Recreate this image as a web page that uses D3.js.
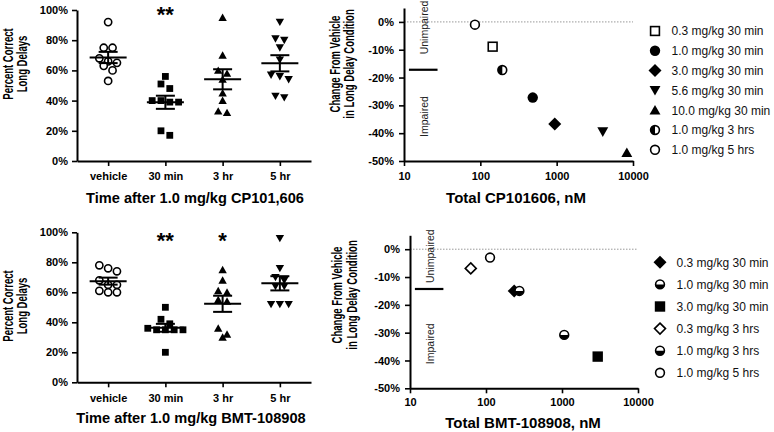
<!DOCTYPE html>
<html><head><meta charset="utf-8">
<script src="https://cdn.jsdelivr.net/npm/d3@7"></script>
<style>
body{margin:0;background:#fff}
svg{display:block}
text{font-family:"Liberation Sans",Arial,Helvetica,sans-serif}
</style>
</head><body>
<svg id="chart" width="774" height="432"></svg>
<script>
// ---------------- DATA ----------------
const timeCategories = ["vehicle", "30 min", "3 hr", "5 hr"];
const percentTicks = [0, 20, 40, 60, 80, 100];

// CP101,606 — percent correct, long delays
const cpVehicle = [92, 75, 75, 68, 66, 65, 63, 60, 53];
const cp30min   = [56, 51, 48, 40, 40, 39, 39, 20, 17];
const cp3hr     = [95, 70, 60, 58, 54, 45, 40, 33, 32];
const cp5hr     = [92, 81, 80, 75, 67, 57, 56, 54, 43, 42];
const cpSignificance = ["", "**", "", ""];

// BMT-108908 — percent correct, long delays
const bmtVehicle = [78, 76, 74, 68, 65, 65, 61, 60, 60];
const bmt30min   = [50, 42, 39, 36, 35, 35, 35, 35, 20];
const bmt3hr     = [75, 68, 61, 60, 55, 54, 36, 32, 30];
const bmt5hr     = [96, 76, 70, 68, 64, 64, 52, 52, 52];
const bmtSignificance = ["", "**", "*", ""];

// Concentration vs change panels
const concTicks = [10, 100, 1000, 10000];
const changeTicks = [0, -10, -20, -30, -40, -50];
const thresholdConc = [11.6, 27.5];

const cpLegend = ["0.3 mg/kg 30 min", "1.0 mg/kg 30 min", "3.0 mg/kg 30 min", "5.6 mg/kg 30 min",
                  "10.0 mg/kg 30 min", "1.0 mg/kg 3 hrs", "1.0 mg/kg 5 hrs"];
const cpConcentration = [145, 486, 944, 4020, 8300, 194, 85];
const cpChange        = [-8.9, -27.2, -36.7, -39.5, -47.0, -17.3, -1.0];
const cpThreshold = -17.2;

const bmtLegend = ["0.3 mg/kg 30 min", "1.0 mg/kg 30 min", "3.0 mg/kg 30 min",
                   "0.3 mg/kg 3 hrs", "1.0 mg/kg 3 hrs", "1.0 mg/kg 5 hrs"];
const bmtConcentration = [235, 275, 2950, 63, 1070, 113];
const bmtChange        = [-15.0, -15.0, -38.6, -6.9, -30.8, -3.0];
const bmtThreshold = -14.3;

// ---------------- STYLE ----------------
const cpMarkers  = ["squareOpen", "circleFilled", "diamondFilled", "triDown", "triUp", "halfLeft", "circleOpen"];
const bmtMarkers = ["diamondFilled", "halfBottom", "squareFilled", "diamondOpen", "halfBottom", "circleOpen"];
const dotMarkers = ["circleOpen", "squareFilled", "triUp", "triDown"];

const svg = d3.select("#chart");

function marker(sel, type, x, y, s) {
  const g = sel.append("g").attr("transform", `translate(${x},${y})`);
  const sw = 1.6;
  const r = s;
  switch (type) {
    case "circleOpen":
      g.append("circle").attr("r", r - sw / 2).attr("fill", "#fff").attr("stroke", "#000").attr("stroke-width", sw); break;
    case "circleFilled":
      g.append("circle").attr("r", r).attr("fill", "#000"); break;
    case "squareOpen":
      g.append("rect").attr("x", -r + sw / 2).attr("y", -r + sw / 2).attr("width", 2 * r - sw).attr("height", 2 * r - sw)
        .attr("fill", "#fff").attr("stroke", "#000").attr("stroke-width", sw); break;
    case "squareFilled":
      g.append("rect").attr("x", -r).attr("y", -r).attr("width", 2 * r).attr("height", 2 * r).attr("fill", "#000"); break;
    case "diamondFilled": {
      const d = r * 1.25;
      g.append("path").attr("d", `M0,${-d}L${d},0L0,${d}L${-d},0Z`).attr("fill", "#000"); break;
    }
    case "diamondOpen": {
      const d = r * 1.25 - 1;
      g.append("path").attr("d", `M0,${-d}L${d},0L0,${d}L${-d},0Z`).attr("fill", "#fff")
        .attr("stroke", "#000").attr("stroke-width", sw); break;
    }
    case "triUp":
      g.append("path").attr("d", `M0,${-r}L${r * 1.05},${r * 0.85}L${-r * 1.05},${r * 0.85}Z`).attr("fill", "#000"); break;
    case "triDown":
      g.append("path").attr("d", `M0,${r}L${r * 1.05},${-r * 0.85}L${-r * 1.05},${-r * 0.85}Z`).attr("fill", "#000"); break;
    default: {
      const rr = r - sw / 2;
      g.append("circle").attr("r", rr).attr("fill", "#fff");
      let d;
      if (type === "halfLeft") d = `M0,${-rr}A${rr},${rr} 0 0 0 0,${rr}Z`;
      if (type === "halfRight") d = `M0,${-rr}A${rr},${rr} 0 0 1 0,${rr}Z`;
      if (type === "halfTop") d = `M${-rr},0A${rr},${rr} 0 0 1 ${rr},0Z`;
      if (type === "halfBottom") d = `M${-rr},0A${rr},${rr} 0 0 0 ${rr},0Z`;
      g.append("path").attr("d", d).attr("fill", "#000");
      g.append("circle").attr("r", rr).attr("fill", "none").attr("stroke", "#000").attr("stroke-width", sw);
    }
  }
}

function styleAxis(g, fontSize) {
  g.select(".domain").attr("stroke", "#000").attr("stroke-width", 2);
  g.selectAll(".tick line").attr("stroke", "#000").attr("stroke-width", 1.6);
  g.selectAll(".tick text").attr("fill", "#000").attr("font-size", fontSize).attr("font-weight", "bold");
  g.attr("font-family", null);
}

function yTitle(lines, xs, cy) {
  lines.forEach((t, i) => {
    svg.append("text").attr("transform", `translate(${xs[i]},${cy}) rotate(-90) scale(0.68,1)`)
      .attr("text-anchor", "middle").attr("font-size", 14).attr("font-weight", "bold").text(t);
  });
}

// ---------------- DOT PLOTS ----------------
function dotPlot(groups, sig, top, bottom, tickPad, xTitleText, xTitleX, xTitleY, starY) {
  const x = d3.scalePoint().domain(timeCategories).range([77, 311]).padding(0.544);
  const y = d3.scaleLinear().domain([0, 100]).range([bottom, top]);

  groups.forEach((vals, gi) => {
    const cx = x(timeCategories[gi]);
    const sorted = vals.slice().sort((a, b) => b - a);
    const rows = [];
    sorted.forEach(v => {
      const last = rows[rows.length - 1];
      if (last && Math.abs(y(v) - y(last[0])) < 6.5) last.push(v); else rows.push([v]);
    });
    const g = svg.append("g");
    rows.forEach(row => {
      row.forEach((v, i) => {
        const off = (i - (row.length - 1) / 2) * 8.8;
        const mt = dotMarkers[gi];
        const size = mt === "circleOpen" ? 4.4 : (mt === "squareFilled" ? 3.4 : 4.0);
        marker(g, mt, cx + off, y(v), size);
      });
    });
    const m = d3.mean(vals);
    const sem = d3.deviation(vals) / Math.sqrt(vals.length);
    const lg = svg.append("g").attr("stroke", "#000").attr("stroke-width", 2);
    lg.append("line").attr("x1", cx - 18.5).attr("x2", cx + 18.5).attr("y1", y(m)).attr("y2", y(m));
    lg.append("line").attr("x1", cx).attr("x2", cx).attr("y1", y(m + sem)).attr("y2", y(m - sem));
    lg.append("line").attr("x1", cx - 9.5).attr("x2", cx + 9.5).attr("y1", y(m + sem)).attr("y2", y(m + sem));
    lg.append("line").attr("x1", cx - 9.5).attr("x2", cx + 9.5).attr("y1", y(m - sem)).attr("y2", y(m - sem));
    if (sig[gi]) {
      svg.append("text").attr("x", cx).attr("y", starY).attr("text-anchor", "middle")
        .attr("font-size", 22).attr("font-weight", "bold").text(sig[gi]);
    }
  });

  const xa = svg.append("g").attr("transform", `translate(0,${bottom})`)
    .call(d3.axisBottom(x).tickSize(5).tickSizeOuter(0).tickPadding(tickPad));
  styleAxis(xa, 11);
  const ya = svg.append("g").attr("transform", `translate(77,0)`)
    .call(d3.axisLeft(y).tickValues(percentTicks).tickFormat(d => d + "%").tickSize(5).tickSizeOuter(0).tickPadding(4));
  styleAxis(ya, 11);

  svg.append("text").attr("x", xTitleX).attr("y", xTitleY).attr("text-anchor", "middle")
    .attr("font-size", 14.6).attr("font-weight", "bold").text(xTitleText);
}

dotPlot([cpVehicle, cp30min, cp3hr, cp5hr], cpSignificance, 10, 161, 6,
  "Time after 1.0 mg/kg CP101,606", 195, 203, 22);
yTitle(["Percent Correct", "Long Delays"], [13, 27], 64);

dotPlot([bmtVehicle, bmt30min, bmt3hr, bmt5hr], bmtSignificance, 232.3, 382.3, 7,
  "Time after 1.0 mg/kg BMT-108908", 191, 423, 248);
yTitle(["Percent Correct", "Long Delays"], [13, 27], 306);

// ---------------- CONCENTRATION PLOTS ----------------
function concPlot(opts) {
  const x = d3.scaleLog().domain([10, 10000]).range([opts.x0, opts.x1]);
  const y = d3.scaleLinear().domain([-50, 5]).range([opts.bottom, opts.top]);

  svg.append("line").attr("x1", x(10)).attr("x2", x(10000)).attr("y1", y(0)).attr("y2", y(0))
    .attr("stroke", "#999").attr("stroke-width", 1).attr("stroke-dasharray", "1.5,1.5");

  svg.append("line").attr("x1", x(thresholdConc[0])).attr("x2", x(thresholdConc[1]))
    .attr("y1", y(opts.threshold)).attr("y2", y(opts.threshold)).attr("stroke", "#000").attr("stroke-width", 2.2);

  svg.append("text").attr("transform", `translate(${opts.x0 + 24},${y(opts.unimpY)}) rotate(-90)`)
    .attr("text-anchor", "middle").attr("font-size", 10.5).attr("fill", "#222").text("Unimpaired");
  svg.append("text").attr("transform", `translate(${opts.x0 + 24},${y(-34)}) rotate(-90)`)
    .attr("text-anchor", "middle").attr("font-size", 10.5).attr("fill", "#222").text("Impaired");

  const g = svg.append("g");
  opts.conc.forEach((c, i) => {
    marker(g, opts.markers[i], x(c), y(opts.change[i]), 5.2);
  });

  const xa = svg.append("g").attr("transform", `translate(0,${opts.bottom})`)
    .call(d3.axisBottom(x).tickValues(concTicks).tickFormat(d3.format("d")).tickSize(5).tickSizeOuter(0).tickPadding(opts.tickPad));
  styleAxis(xa, 11);
  const ya = svg.append("g").attr("transform", `translate(${opts.x0},0)`)
    .call(d3.axisLeft(y).tickValues(changeTicks).tickFormat(d => d + "%").tickSize(5).tickSizeOuter(0).tickPadding(5));
  styleAxis(ya, 11);

  svg.append("text").attr("x", opts.titleX).attr("y", opts.titleY).attr("text-anchor", "middle")
    .attr("font-size", 15).attr("font-weight", "bold").text(opts.title);

  const lg = svg.append("g");
  opts.legend.forEach((t, i) => {
    const cy = opts.legY + i * opts.legStep;
    marker(lg, opts.markers[i], opts.legX, cy, 5.2);
    lg.append("text").attr("x", opts.legX + 16.5).attr("y", cy + 4.3).attr("font-size", 12).attr("fill", "#111").text(t);
  });
}

concPlot({
  x0: 404, x1: 633, top: 8, bottom: 161, threshold: cpThreshold, unimpY: -2,
  conc: cpConcentration, change: cpChange, markers: cpMarkers, tickPad: 6,
  title: "Total CP101606, nM", titleX: 516, titleY: 203,
  legend: cpLegend, legX: 655, legY: 31, legStep: 19.8
});
yTitle(["Change From Vehicle", "in Long Delay Condition"], [339.5, 354], 64);

concPlot({
  x0: 410, x1: 638, top: 235.3, bottom: 388.3, threshold: bmtThreshold, unimpY: -2.5,
  conc: bmtConcentration, change: bmtChange, markers: bmtMarkers, tickPad: 5,
  title: "Total BMT-108908, nM", titleX: 523, titleY: 428,
  legend: bmtLegend, legX: 660, legY: 262.3, legStep: 22.1
});
yTitle(["Change From Vehicle", "in Long Delay Condition"], [342, 356.5], 295);
</script>
</body></html>
